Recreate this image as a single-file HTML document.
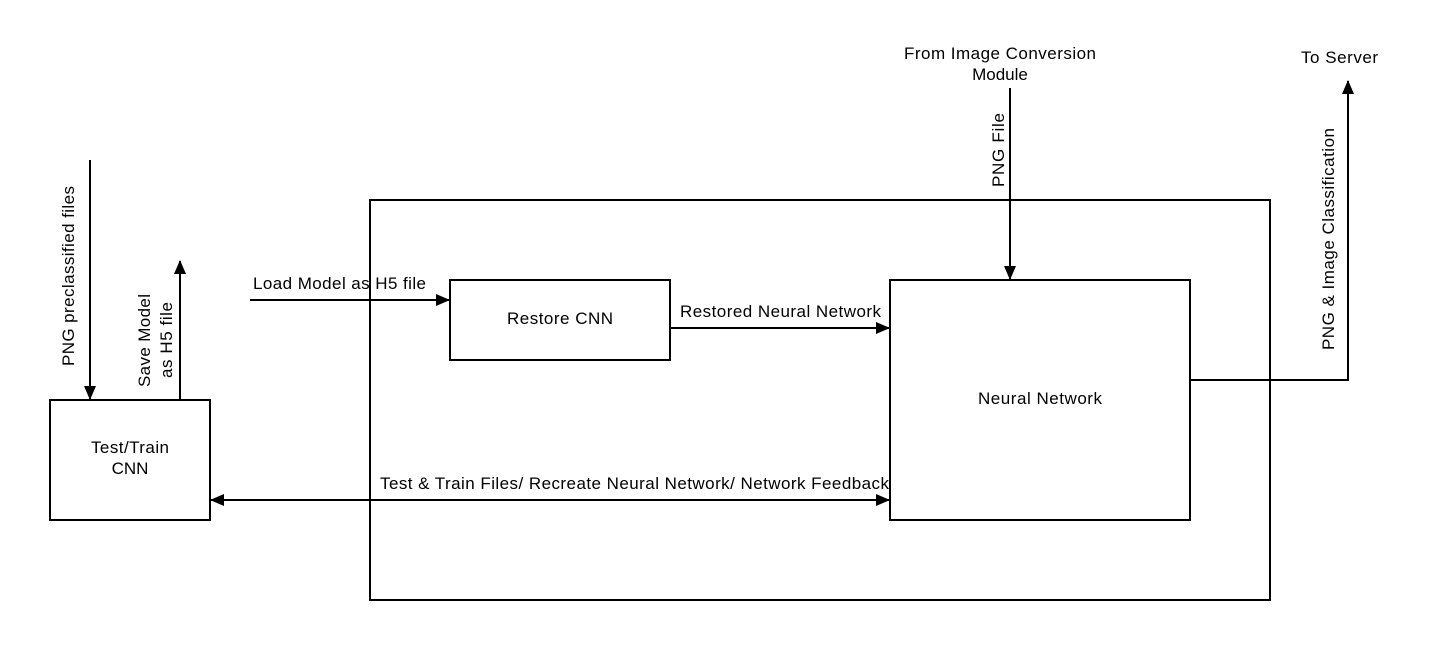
<!DOCTYPE html>
<html><head><meta charset="utf-8"><style>html,body{margin:0;padding:0;background:#fff}</style></head>
<body>
<svg width="1430" height="640" viewBox="0 0 1430 640" xmlns="http://www.w3.org/2000/svg" font-family="Liberation Sans, sans-serif" font-size="17" fill="#000">
<defs>
<marker id="a" markerWidth="14" markerHeight="12" refX="13" refY="6" orient="auto" markerUnits="userSpaceOnUse">
<path d="M0,0 L14,6 L0,12 z" fill="#000"/>
</marker>
<marker id="s" markerWidth="14" markerHeight="12" refX="1" refY="6" orient="auto" markerUnits="userSpaceOnUse">
<path d="M14,0 L0,6 L14,12 z" fill="#000"/>
</marker>
</defs>
<g fill="none" stroke="#000" stroke-width="2">
<rect x="370" y="200" width="900" height="400"/>
<rect x="50" y="400" width="160" height="120"/>
<rect x="450" y="280" width="220" height="80"/>
<rect x="890" y="280" width="300" height="240"/>
<line x1="90" y1="160" x2="90" y2="399" marker-end="url(#a)"/>
<line x1="180" y1="400" x2="180" y2="261" marker-end="url(#a)"/>
<line x1="250" y1="300" x2="449" y2="300" marker-end="url(#a)"/>
<line x1="670" y1="328" x2="889" y2="328" marker-end="url(#a)"/>
<line x1="211" y1="500" x2="889" y2="500" marker-start="url(#s)" marker-end="url(#a)"/>
<line x1="1010" y1="88" x2="1010" y2="279" marker-end="url(#a)"/>
<polyline points="1190,380 1348,380 1348,81" marker-end="url(#a)"/>
</g>
<text x="91" y="453" textLength="78">Test/Train</text>
<text x="130" y="474" text-anchor="middle">CNN</text>
<text x="507" y="324" textLength="106">Restore CNN</text>
<text x="978" y="404" textLength="124">Neural Network</text>
<text x="253" y="289" textLength="173">Load Model as H5 file</text>
<text x="680" y="317" textLength="201">Restored Neural Network</text>
<text x="380" y="489" textLength="509">Test &amp; Train Files/ Recreate Neural Network/ Network Feedback</text>
<text x="904" y="59" textLength="192">From Image Conversion</text>
<text x="1000" y="80" text-anchor="middle">Module</text>
<text x="1301" y="63" textLength="77">To Server</text>
<text transform="translate(74,366) rotate(-90)" textLength="180">PNG preclassified files</text>
<text transform="translate(150,387) rotate(-90)" textLength="93">Save Model</text>
<text transform="translate(172,378) rotate(-90)" textLength="76">as H5 file</text>
<text transform="translate(1004,187) rotate(-90)" textLength="74">PNG File</text>
<text transform="translate(1334,350) rotate(-90)" textLength="222">PNG &amp; Image Classification</text>
</svg>
</body></html>
